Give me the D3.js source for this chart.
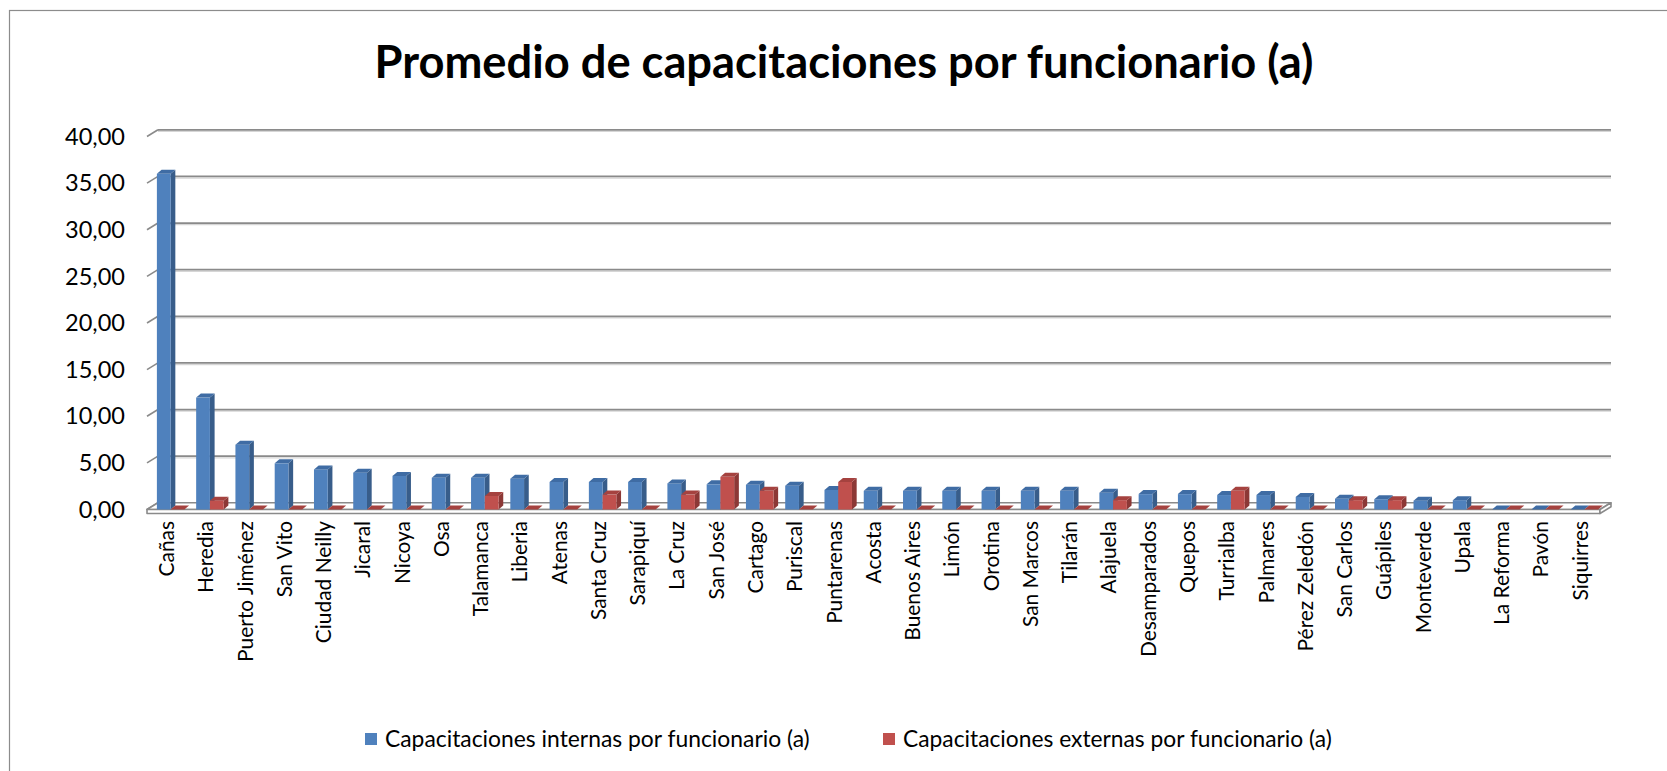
<!DOCTYPE html>
<html>
<head>
<meta charset="utf-8">
<script src="https://cdn.jsdelivr.net/npm/d3@7"></script>
<style>
  html, body { margin: 0; padding: 0; background: #fff; }
  svg { display: block; }
  text { font-family: Lato, "Open Sans", sans-serif; fill: #000; }
</style>
</head>
<body>
<div id="chart"></div>
<script>
// data
const categories = ["Cañas", "Heredia", "Puerto Jiménez", "San Vito", "Ciudad Neilly", "Jicaral", "Nicoya", "Osa",
  "Talamanca", "Liberia", "Atenas", "Santa Cruz", "Sarapiquí", "La Cruz", "San José", "Cartago", "Puriscal",
  "Puntarenas", "Acosta", "Buenos Aires", "Limón", "Orotina", "San Marcos", "Tilarán", "Alajuela", "Desamparados",
  "Quepos", "Turrialba", "Palmares", "Pérez Zeledón", "San Carlos", "Guápiles", "Monteverde", "Upala",
  "La Reforma", "Pavón", "Siquirres"];

const internas = [36.0, 12.0, 6.95, 4.95, 4.3, 3.95, 3.6, 3.4, 3.4, 3.3, 2.95, 2.95, 2.95, 2.8, 2.7, 2.65, 2.55,
  2.1, 2.0, 2.0, 2.0, 2.0, 2.0, 2.0, 1.8, 1.65, 1.65, 1.55, 1.55, 1.35, 1.15, 1.1, 0.95, 1.0, 0, 0, 0];

const externas = [0, 0.95, 0, 0, 0, 0, 0, 0, 1.45, 0, 0, 1.6, 0, 1.6, 3.5, 2.0, 0, 2.95, 0, 0, 0, 0, 0, 0,
  1.0, 0, 0, 2.0, 0, 0, 1.0, 1.0, 0, 0, 0, 0, 0];

const seriesNames = ["Capacitaciones internas por funcionario (a)", "Capacitaciones externas por funcionario (a)"];
const yTicks = [0, 5, 10, 15, 20, 25, 30, 35, 40];
const title = "Promedio de capacitaciones por funcionario (a)";

/****** SETTINGS ********/
const W = 1667, H = 771;
const front = {x0: 147, x1: 1600, y0: 509.5};   // front edge of the floor
const depth = {dx: 11, dy: -6.7};                // floor / wall depth
const barDepth = {dx: 4.7, dy: -4};
const colors = [
  {front: "#4f81bd", side: "#385d8a", top: "#3f6ca4"},
  {front: "#c0504d", side: "#8c3836", top: "#a5423f"}
];
const gridColor = "#8a8a8a";

const fmt = d3.formatLocale({decimal: ",", thousands: ".", grouping: [3], currency: ["", ""]}).format(".2f");

const svg = d3.select("#chart").append("svg")
  .attr("width", W)
  .attr("height", H);

// chart border
svg.append("rect")
  .attr("x", 9.5).attr("y", 10.5)
  .attr("width", W + 20).attr("height", H + 20)
  .attr("fill", "none")
  .attr("stroke", "#8c8c8c")
  .attr("stroke-width", 1.2);

const y = d3.scaleLinear().domain([0, 40]).range([front.y0, front.y0 - 373]);

const x = d3.scaleBand()
  .domain(categories)
  .range([front.x0 + 4, front.x1 + 4])
  .paddingInner(0.3)
  .paddingOuter(0.15);

const sub = d3.scaleBand().domain([0, 1]).range([0, x.bandwidth()]);

// gridlines on back wall + diagonal ticks
const grid = svg.append("g");
yTicks.forEach(v => {
  const yb = y(v) + depth.dy;
  grid.append("line")
    .attr("x1", front.x0 + depth.dx).attr("x2", front.x1 + depth.dx)
    .attr("y1", yb + 1.6).attr("y2", yb + 1.6)
    .attr("stroke", "#d6d6d6").attr("stroke-width", 1.2);
  grid.append("line")
    .attr("x1", front.x0 + depth.dx).attr("x2", front.x1 + depth.dx)
    .attr("y1", yb).attr("y2", yb)
    .attr("stroke", gridColor).attr("stroke-width", 1.8);
  grid.append("line")
    .attr("x1", front.x0).attr("y1", y(v))
    .attr("x2", front.x0 + depth.dx).attr("y2", yb)
    .attr("stroke", gridColor).attr("stroke-width", 1.6);
});

// tick labels
const tickLabels = svg.append("g").selectAll("text")
  .data(yTicks)
  .join("text")
  .attr("x", 125)
  .attr("y", d => y(d))
  .attr("dy", "0.35em")
  .attr("text-anchor", "end")
  .attr("font-size", 24)
  .text(d => fmt(d));
{
  const w = tickLabels.filter(d => d === 40).node().getComputedTextLength();
  tickLabels.attr("font-size", 24 * 60 / w);
}

// floor slab
const fl = svg.append("g")
  .attr("fill", "#fff")
  .attr("stroke", gridColor)
  .attr("stroke-width", 1.6)
  .attr("stroke-linejoin", "round");
fl.append("path").attr("d", d3.line()([
  [front.x0, front.y0], [front.x1, front.y0],
  [front.x1 + depth.dx, front.y0 + depth.dy], [front.x0 + depth.dx, front.y0 + depth.dy]
]) + "Z");
fl.append("path").attr("d", d3.line()([
  [front.x0, front.y0], [front.x1, front.y0], [front.x1, front.y0 + 4], [front.x0, front.y0 + 4]
]) + "Z");
fl.append("path").attr("d", d3.line()([
  [front.x1, front.y0], [front.x1 + depth.dx, front.y0 + depth.dy],
  [front.x1 + depth.dx, front.y0 + depth.dy + 4], [front.x1, front.y0 + 4]
]) + "Z");

// 3d bars
const bars = svg.append("g");
const drawBar = function(g, x0, v, c) {
  const w = sub.bandwidth();
  const yt = y(v), yb = y(0);
  const dx = barDepth.dx, dy = barDepth.dy;
  if (v > 0) {
    g.append("path")
      .attr("d", d3.line()([[x0 + w, yt], [x0 + w + dx, yt + dy], [x0 + w + dx, yb + dy], [x0 + w, yb]]) + "Z")
      .attr("fill", c.side);
    g.append("rect")
      .attr("x", x0).attr("y", yt)
      .attr("width", w).attr("height", yb - yt)
      .attr("fill", c.front);
  }
  g.append("path")
    .attr("d", d3.line()([[x0, yt], [x0 + w, yt], [x0 + w + dx, yt + dy], [x0 + dx, yt + dy]]) + "Z")
    .attr("fill", c.top);
}

categories.forEach((cat, i) => {
  const g = bars.append("g");
  drawBar(g, x(cat) + sub(0), internas[i], colors[0]);
  drawBar(g, x(cat) + sub(1), externas[i], colors[1]);
});

// category labels
const catLabels = svg.append("g").selectAll("text")
  .data(categories)
  .join("text")
  .attr("transform", d => `translate(${x(d) + x.bandwidth() / 2 - 4},521) rotate(-90)`)
  .attr("text-anchor", "end")
  .attr("dy", "0.35em")
  .attr("font-size", 20)
  .text(d => d);
{
  const w = catLabels.filter(d => d === "Puerto Jiménez").node().getComputedTextLength();
  catLabels.attr("font-size", 20 * 141 / w);
}

// title
const t = svg.append("text")
  .attr("x", 844)
  .attr("y", 78)
  .attr("text-anchor", "middle")
  .attr("font-weight", "bold")
  .attr("font-size", 44)
  .text(title);
t.attr("font-size", 44 * 939 / t.node().getComputedTextLength());

// legend
const legend = svg.append("g");
const legendX = [365, 883];
const legendW = [425, 429];
seriesNames.forEach((name, i) => {
  legend.append("rect")
    .attr("x", legendX[i]).attr("y", 733)
    .attr("width", 12).attr("height", 12)
    .attr("fill", colors[i].front);
  const lt = legend.append("text")
    .attr("x", legendX[i] + 20)
    .attr("y", 739)
    .attr("dy", "0.35em")
    .attr("font-size", 20)
    .text(name);
  lt.attr("font-size", 20 * legendW[i] / lt.node().getComputedTextLength());
});
</script>
</body>
</html>
